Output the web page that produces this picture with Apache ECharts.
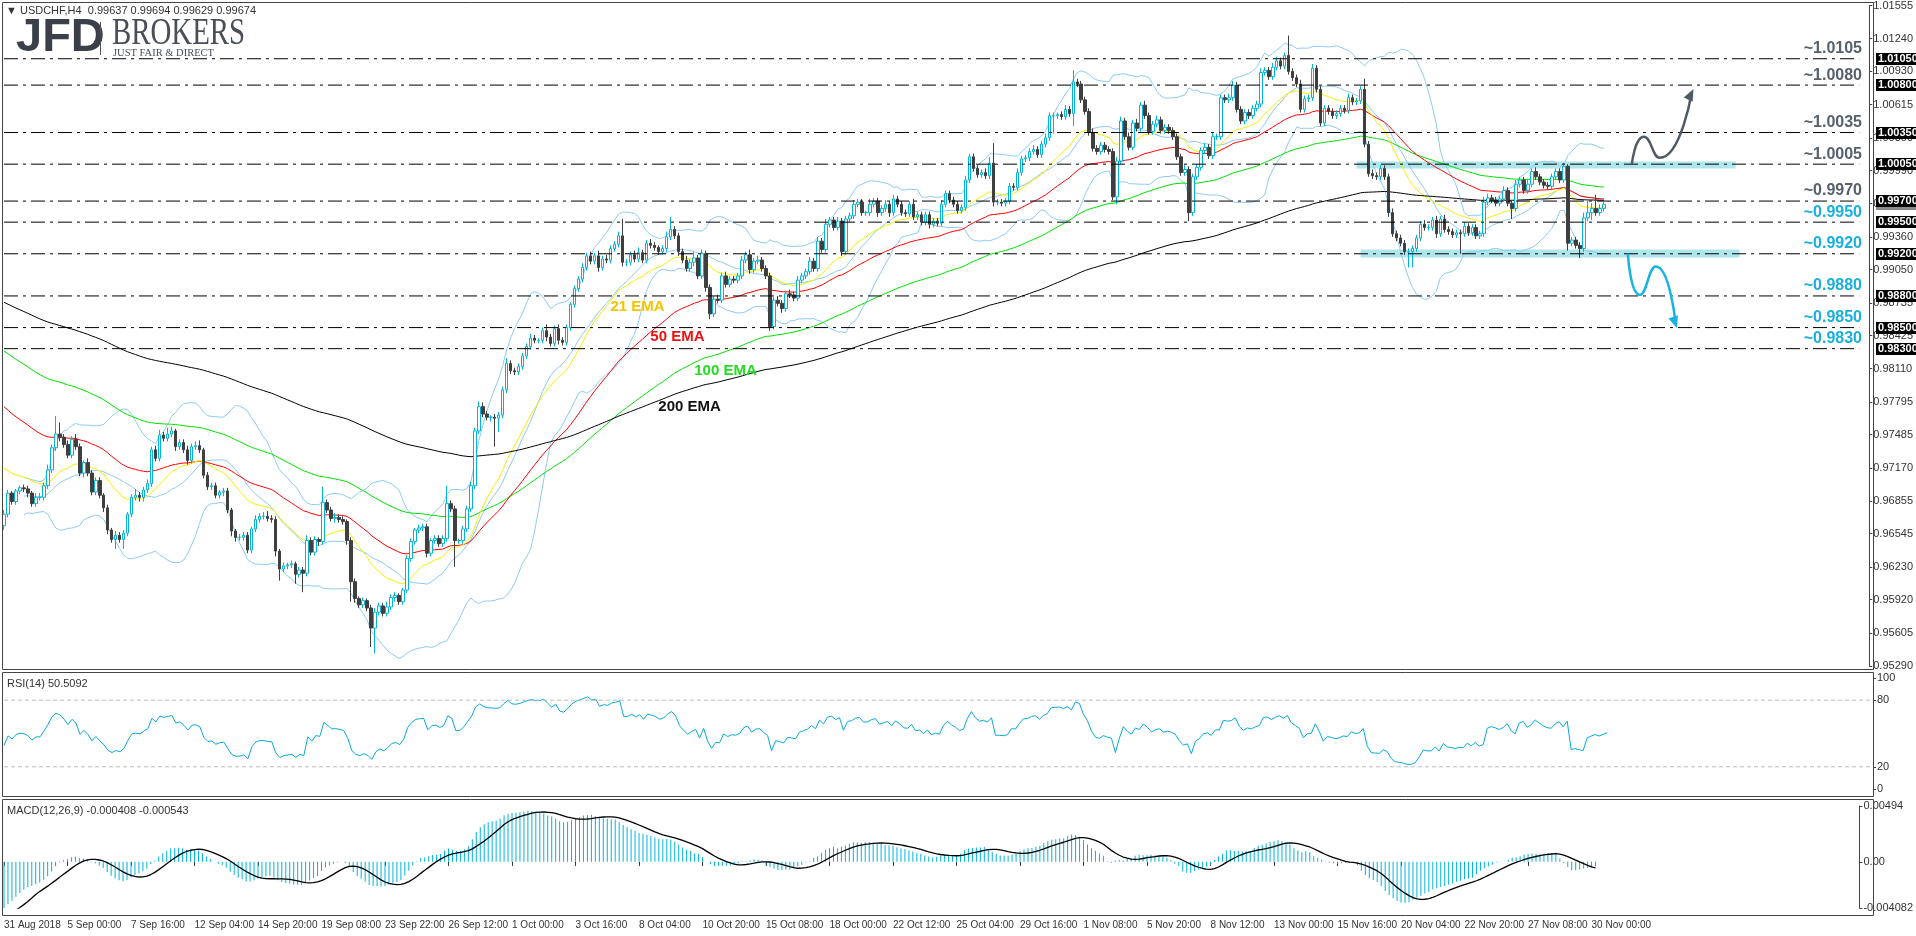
<!DOCTYPE html>
<html><head><meta charset="utf-8">
<script src="https://cdn.jsdelivr.net/npm/echarts@6/dist/echarts.min.js"></script>
<style>html,body{margin:0;padding:0;background:#fff}#c{width:1916px;height:936px}</style>
</head><body><div id="c"></div>
<script>
// ---------- DATA (prices in pips, 1 pip = 0.0001) ----------
const closes = [
9673,9693,9685,9695,9698,9697,9693,9683,9689,9689,
9700,9715,9736,9749,9746,9739,9729,9744,9737,9712,
9722,9712,9694,9705,9691,9679,9658,9649,9653,9649,
9655,9673,9689,9691,9689,9696,9702,9734,9726,9748,
9745,9749,9752,9737,9741,9734,9724,9737,9738,9734,
9710,9699,9700,9691,9694,9695,9677,9657,9651,9651,
9653,9639,9659,9668,9671,9671,9669,9668,9638,9621,
9624,9625,9626,9616,9620,9617,9648,9637,9649,9647,
9684,9677,9669,9670,9668,9666,9648,9609,9593,9587,
9591,9584,9565,9580,9586,9579,9585,9594,9596,9590,
9601,9631,9647,9658,9660,9661,9636,9648,9650,9645,
9650,9683,9678,9648,9648,9659,9678,9700,9752,9775,
9768,9765,9765,9764,9767,9791,9816,9809,9808,9813,
9823,9832,9840,9838,9838,9847,9841,9835,9849,9838,
9836,9850,9872,9887,9896,9907,9918,9913,9918,9907,
9915,9914,9925,9929,9937,9912,9912,9919,9915,9921,
9914,9930,9928,9926,9922,9925,9936,9943,9937,9922,
9914,9906,9912,9916,9899,9920,9888,9863,9877,9876,
9899,9891,9896,9895,9899,9914,9919,9905,9913,9914,
9906,9899,9851,9876,9873,9868,9882,9881,9878,9895,
9899,9903,9913,9906,9932,9924,9948,9952,9945,9951,
9922,9953,9956,9967,9969,9959,9959,9967,9970,9959,
9963,9967,9959,9972,9967,9959,9958,9967,9955,9957,
9950,9957,9948,9951,9949,9967,9977,9971,9967,9961,
9964,9990,10012,10001,9995,9997,9994,10006,9969,9969,
9968,9970,9984,9983,9997,10010,10011,10017,10019,10014,
10024,10030,10051,10051,10052,10050,10057,10053,10083,10081,
10066,10055,10035,10020,10017,10023,10019,10017,9974,10008,
10046,10031,10021,10044,10039,10061,10051,10036,10043,10047,
10037,10040,10037,10031,10012,9997,10000,9959,9993,10002,
10018,10021,10013,10031,10031,10068,10066,10068,10080,10057,
10046,10054,10051,10058,10062,10092,10094,10088,10097,10103,
10098,10108,10093,10087,10081,10057,10067,10068,10096,10076,
10044,10058,10055,10051,10053,10058,10056,10068,10064,10065,
10076,10024,9996,9994,9993,10001,9993,9959,9939,9935,
9930,9922,9922,9925,9935,9948,9945,9945,9952,9939,
9953,9943,9941,9938,9940,9939,9946,9940,9945,9937,
9939,9969,9973,9971,9968,9972,9980,9968,9963,9986,
9990,9980,9986,9998,9993,9988,9985,9984,9993,9998,
9990,10003,9930,9933,9928,9925,9954,9959,9963,9959,
9963,9967];
const firstOpen = 9662;
// upper / lower wick lengths in pips (base-36 digits, one per bar)
const wickUp = ["4322233244","353hb34353","2433323243","3236334345","3642334345","2333233223","3324345332","3232335332","f334332332","3234335332",
"2332333233","3h33233435","4323335333","3343236334","3323343435","34334g3345","3343235c33","3436343334","3433343534","3333433434",
"3343435334","3334332533","3434333353","3333343333","34333346j3","3333433343","34332343b3","3334333334","4343434334","3333334333",
"3434333443","3333343344","33j3343343","3333333433","3a34333343","3333334334","3433334333","3543334334","3343433333","3323335d5d","42"];
const wickDown = ["4333334333","3333433333","4333344393","9333443333","3334334333","3333343543","333333335b","33393i3334","3334334j43","33io333343",
"3333334333","333p333333","334rd33333","3333334334","3333333334","3333344333","3333333334","3334334533","3333333433","3343343333",
"3333333333","4333333334","3343333333","3343333333","3333333343","3333333333","333h3333c3","3333333337","3333333333","3333333833",
"3333333333","3333333333","3333333333","3333333333","3333333433","33ff333334","33333j3333","33333333a3","3333333333","3373393373","33"];
// indicator starting values read at the left edge
const emaSeeds = {e21: 9721, e50: 9779, e100: 9831, e200: 9876, e12: 9682, e26: 9726};
const macdSignalSeed = -48, rsiSeedGain = 3, rsiSeedLoss = 6;

const xTickLabels = ["31 Aug 2018","5 Sep 00:00","7 Sep 16:00","12 Sep 04:00","14 Sep 20:00","19 Sep 08:00","23 Sep 22:00","26 Sep 12:00","1 Oct 00:00","3 Oct 16:00","8 Oct 04:00","10 Oct 20:00","15 Oct 08:00","18 Oct 00:00","22 Oct 12:00","25 Oct 04:00","29 Oct 16:00","1 Nov 08:00","5 Nov 20:00","8 Nov 12:00","13 Nov 00:00","15 Nov 16:00","20 Nov 04:00","22 Nov 20:00","27 Nov 08:00","30 Nov 00:00"];
const priceTickLabels = ["1.01555","1.01240","1.00930","1.00615","1.00300","0.99990","0.99675","0.99360","0.99050","0.98735","0.98425","0.98110","0.97795","0.97485","0.97170","0.96855","0.96545","0.96230","0.95920","0.95605","0.95290"];
const levels = [1.0105,1.0080,1.0035,1.0005,0.9970,0.9950,0.9920,0.9880,0.9850,0.9830];
const levelTexts = ["~1.0105","~1.0080","~1.0035","~1.0005","~0.9970","~0.9950","~0.9920","~0.9880","~0.9850","~0.9830"];
const levelBoxes = ["1.01050","1.00800","1.00350","1.00050","0.99700","0.99500","0.99200","0.98800","0.98500","0.98300"];
const zones = [[339,434,1.00075,1.00010],[340,435,0.99240,0.99165]];
const upArrow = [[408,1.0005],[411,1.0031],[415,1.0011],[423,1.0073]];
const downArrow = [[407,0.9920],[410,0.9881],[414,0.9908],[419,0.9853]];
const emaTags = [["21 EMA",152,0.9870,"#f5c400"],["50 EMA",162,0.9841,"#ee1111"],["100 EMA",173,0.9809,"#22dd22"],["200 EMA",164,0.9775,"#111111"]];

// ---------- build ----------
const N = closes.length, TOTAL = 468;
const cats = Array.from({length: TOTAL}, (_, i) => String(i));
const up = wickUp.join('').split('').map(c => parseInt(c, 36));
const dn = wickDown.join('').split('').map(c => parseInt(c, 36));
const P = v => v == null ? null : +(v / 10000).toFixed(6);
const candles = closes.map((c, i) => {
  const o = i === 0 ? firstOpen : closes[i - 1];
  const h = Math.max(o, c) + (up[i] ?? 3), l = Math.min(o, c) - (dn[i] ?? 3);
  return [P(o), P(c), P(l), P(h)];
});
function ema(seed, n) { const a = 2 / (n + 1); let e = seed; return closes.map(c => (e = e + a * (c - e))); }
const e21 = ema(emaSeeds.e21, 21), e50 = ema(emaSeeds.e50, 50), e100 = ema(emaSeeds.e100, 100), e200 = ema(emaSeeds.e200, 200);
const e12 = ema(emaSeeds.e12, 12), e26 = ema(emaSeeds.e26, 26);
const bbU = [], bbM = [], bbL = [];
closes.forEach((c, i) => {
  if (i < 5) { bbU.push(null); bbM.push(null); bbL.push(null); return; }
  const w = closes.slice(Math.max(0, i - 19), i + 1);
  const m = w.reduce((a, b) => a + b, 0) / w.length;
  const sd = Math.sqrt(w.reduce((a, b) => a + (b - m) * (b - m), 0) / w.length);
  bbM.push(P(m)); bbU.push(P(m + 2 * sd)); bbL.push(P(m - 2 * sd));
});
let ag = rsiSeedGain, al = rsiSeedLoss;
const rsi = closes.map((c, i) => {
  const d = c - (i === 0 ? firstOpen : closes[i - 1]);
  ag = (ag * 13 + Math.max(d, 0)) / 14; al = (al * 13 + Math.max(-d, 0)) / 14;
  return +(100 - 100 / (1 + ag / al)).toFixed(2);
});
const macd = e12.map((v, i) => v - e26[i]);
const sig = macd.map((v, i) => {
  let s = 0; for (let k = i - 8; k <= i; k++) s += k < 0 ? macdSignalSeed : macd[k];
  return s / 9;
});
const macdP = macd.map(v => +(v / 10000).toFixed(7)), sigP = sig.map(v => +(v / 10000).toFixed(7));

const FONT = 'Liberation Sans';
const gridL = 2, gridR = 43;
const hiddenX = i => ({type: 'category', data: cats, gridIndex: i, boundaryGap: true, axisLine: {show: false}, axisTick: {show: false}, axisLabel: {show: false}});
const tickIdx = idx => idx % 16 === 0 && idx / 16 < xTickLabels.length;
const line = (data, color, extra) => Object.assign({type: 'line', xAxisIndex: 0, yAxisIndex: 0, data, showSymbol: false, silent: true,
  lineStyle: {color, width: 1}, z: 3}, extra || {});

const levelSeries = levels.map(v => line([[0, v], [TOTAL - 3, v]], '#000',
  {lineStyle: {color: '#000', width: 1, type: [14, 5, 3, 5]}, z: 5}));

const option = {
  animation: false,
  grid: [
    {left: gridL, right: gridR, top: 5, height: 661},
    {left: gridL, right: gridR, top: 678, height: 111},
    {left: gridL, right: gridR, top: 806, height: 102}
  ],
  xAxis: [hiddenX(0), hiddenX(1), {
    type: 'category', data: cats, gridIndex: 2, boundaryGap: true, offset: 7,
    axisLine: {show: false},
    axisTick: {show: true, interval: tickIdx, length: 4, alignWithLabel: true, lineStyle: {color: '#333'}},
    axisLabel: {interval: tickIdx, formatter: (v, idx) => xTickLabels[idx / 16], align: 'left', margin: 5, hideOverlap: false,
      fontFamily: FONT, fontSize: 10, color: '#333'}
  }],
  yAxis: [
    {type: 'value', gridIndex: 0, position: 'right', min: 0.95290, max: 1.01555, splitLine: {show: false},
     axisLine: {show: true, lineStyle: {color: '#444'}},
     axisTick: {show: true, length: 3, customValues: priceTickLabels.map(Number), lineStyle: {color: '#444'}},
     axisLabel: {customValues: priceTickLabels.map(Number), formatter: v => v.toFixed(5), fontFamily: FONT, fontSize: 11, color: '#333', margin: 4}},
    {type: 'value', gridIndex: 1, position: 'right', min: 0, max: 100, splitLine: {show: false},
     axisLine: {show: true, lineStyle: {color: '#444'}},
     axisTick: {show: true, length: 3, customValues: [0, 20, 80, 100], lineStyle: {color: '#444'}},
     axisLabel: {customValues: [0, 20, 80, 100], fontFamily: FONT, fontSize: 11, color: '#333', margin: 4}},
    {type: 'value', gridIndex: 2, position: 'right', min: -0.004082, max: 0.00494, splitLine: {show: false},
     axisLine: {show: true, lineStyle: {color: '#444'}},
     axisTick: {show: true, length: 3, customValues: [-0.004082, 0, 0.00494], lineStyle: {color: '#444'}},
     axisLabel: {customValues: [-0.004082, 0, 0.00494], formatter: v => v === 0 ? '0.00' : (v < 0 ? '-0.004082' : '0.00494'),
       fontFamily: FONT, fontSize: 11, color: '#333', margin: 4}}
  ],
  series: levelSeries.concat([
    line(bbU.map((v,i)=>[i,v]), '#8ccaf5', {z: 2}),
    line(bbM.map((v,i)=>[i,v]), '#8ccaf5', {z: 2}),
    line(bbL.map((v,i)=>[i,v]), '#8ccaf5', {z: 2}),
    line(e100.map((v,i)=>[i,P(v)]), '#00e000'),
    line(e50.map((v,i)=>[i,P(v)]), '#ff0000'),
    line(e21.map((v,i)=>[i,P(v)]), '#f2f200'),
    line(e200.map((v,i)=>[i,P(v)]), '#000000'),
    {type: 'candlestick', xAxisIndex: 0, yAxisIndex: 0, data: candles, barWidth: 3, z: 4,
     itemStyle: {color: '#ffffff', color0: '#3f3f3f', borderColor: '#00b4dc', borderColor0: '#3f3f3f', borderWidth: 1},
     markArea: {silent: true, itemStyle: {color: '#aee6ec'},
       data: zones.map(z => [{xAxis: z[0], yAxis: z[2]}, {xAxis: z[1], yAxis: z[3]}])}},
    line(upArrow, '#505a66', {smooth: 0.6, lineStyle: {color: '#505a66', width: 2.5}, z: 6}),
    line(downArrow, '#1ab3e0', {smooth: 0.6, lineStyle: {color: '#1ab3e0', width: 2.5}, z: 6}),
    {type: 'line', xAxisIndex: 1, yAxisIndex: 1, data: rsi.map((v,i)=>[i,v]), showSymbol: false, lineStyle: {color: '#0aa8d8', width: 1}},
    {type: 'line', xAxisIndex: 1, yAxisIndex: 1, data: [[0,80],[TOTAL-1,80]], showSymbol: false, lineStyle: {color: '#bbb', type: [4,3], width: 1}},
    {type: 'line', xAxisIndex: 1, yAxisIndex: 1, data: [[0,20],[TOTAL-1,20]], showSymbol: false, lineStyle: {color: '#bbb', type: [4,3], width: 1}},
    {type: 'bar', xAxisIndex: 2, yAxisIndex: 2, data: macdP.map((v,i)=>[i,v]), barWidth: 1, itemStyle: {color: '#00b4dc'}},
    {type: 'line', xAxisIndex: 2, yAxisIndex: 2, data: sigP.map((v,i)=>[i,v]), showSymbol: false, lineStyle: {color: '#000', width: 1.3}}
  ])
};
const chart = echarts.init(document.getElementById('c'), null, {renderer: 'canvas'});
chart.setOption(option);

// ---------- graphics (positions derived from data coordinates) ----------
const px = (i, p) => chart.convertToPixel({xAxisIndex: 0, yAxisIndex: 0}, [i, p]);
function arrowHead(pts, color) {
  const a = px(pts[pts.length - 2][0], pts[pts.length - 2][1]), b = px(pts[pts.length - 1][0], pts[pts.length - 1][1]);
  const dx = b[0] - a[0], dy = b[1] - a[1], L = Math.hypot(dx, dy), ux = dx / L, uy = dy / L;
  const tip = [b[0] + ux * 4, b[1] + uy * 4], base = [tip[0] - ux * 12, tip[1] - uy * 12];
  return {type: 'polygon', shape: {points: [tip, [base[0] - uy * 5, base[1] + ux * 5], [base[0] + uy * 5, base[1] - ux * 5]]}, style: {fill: color}, z: 100};
}
const g = [
  {type: 'rect', shape: {x: 2.5, y: 2.5, width: 1871, height: 667}, style: {fill: 'none', stroke: '#444', lineWidth: 1}, z: 50},
  {type: 'rect', shape: {x: 2.5, y: 672.5, width: 1871, height: 124}, style: {fill: 'none', stroke: '#444', lineWidth: 1}, z: 50},
  {type: 'rect', shape: {x: 2.5, y: 799.5, width: 1871, height: 116}, style: {fill: 'none', stroke: '#444', lineWidth: 1}, z: 50},
  {type: 'text', x: 6, y: 11, style: {text: '▼ USDCHF,H4  0.99637 0.99694 0.99629 0.99674', font: '11px ' + FONT, fill: '#333', textVerticalAlign: 'middle'}, z: 60},
  {type: 'text', x: 16, y: 38, style: {text: 'JFD', font: 'bold 47px ' + FONT, fill: '#3b4048', textVerticalAlign: 'middle'}, z: 60},
  {type: 'rect', shape: {x: 100, y: 22, width: 1, height: 33}, style: {fill: '#555'}, z: 60},
  {type: 'rect', shape: {x: 99, y: 33, width: 3, height: 8}, style: {fill: '#444'}, z: 60},
  {type: 'text', x: 112, y: 34, scaleX: 0.78, style: {text: 'BROKERS', font: '37px "Liberation Serif"', fill: '#4a4f57', textVerticalAlign: 'middle'}, z: 60},
  {type: 'text', x: 113, y: 53, style: {text: 'JUST FAIR & DIRECT', font: '10.5px "Liberation Serif"', fill: '#4a4f57', textVerticalAlign: 'middle'}, z: 60},
  {type: 'text', x: 7, y: 684, style: {text: 'RSI(14) 50.5092', font: '11px ' + FONT, fill: '#333', textVerticalAlign: 'middle'}, z: 60},
  {type: 'text', x: 7, y: 811, style: {text: 'MACD(12,26,9) -0.000408 -0.000543', font: '11px ' + FONT, fill: '#333', textVerticalAlign: 'middle'}, z: 60},
  arrowHead(upArrow, '#505a66'), arrowHead(downArrow, '#1ab3e0')
];
// current-price marker (mostly covered by the 0.99700 box, as in the reference)
const yLast = Math.round(px(0, closes[N - 1] / 10000)[1]);
g.push({type: 'rect', shape: {x: 1876, y: yLast - 6, width: 40, height: 12}, style: {fill: '#8a8a8a'}, z: 69});
const boxAt = (v, txt, bg) => { const y = Math.round(px(0, v)[1]);
  g.push({type: 'rect', shape: {x: 1876, y: y - 6, width: 40, height: 12}, style: {fill: bg}, z: 70});
  g.push({type: 'text', x: 1878, y: y, style: {text: txt, font: 'bold 11px ' + FONT, fill: '#fff', textVerticalAlign: 'middle'}, z: 71});
};
levels.forEach((v, k) => {
  const y = px(0, v)[1];
  g.push({type: 'text', x: 1862, y: y - 10, style: {text: levelTexts[k], font: 'bold 16px ' + FONT, fill: k < 5 ? '#57616c' : '#18b0de',
    textAlign: 'right', textVerticalAlign: 'middle'}, z: 60});
  boxAt(v, levelBoxes[k], '#000');
});
emaTags.forEach(t => { const p = px(t[1], t[2]);
  g.push({type: 'text', x: p[0], y: p[1], style: {text: t[0], font: 'bold 15px ' + FONT, fill: t[3], textVerticalAlign: 'middle'}, z: 60}); });
chart.setOption({graphic: g});
</script></body></html>
